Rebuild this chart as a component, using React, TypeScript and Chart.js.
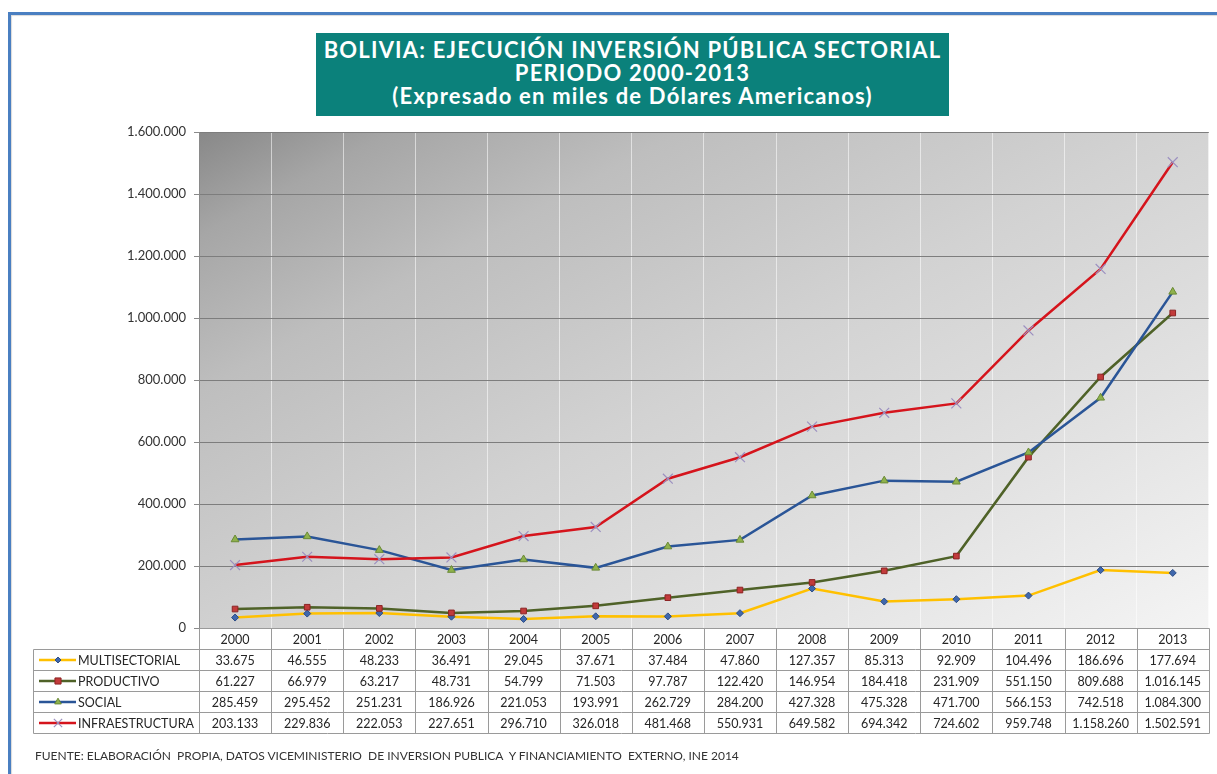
import React, { useEffect, useRef } from 'react';
import { Chart, registerables } from 'chart.js';

Chart.register(...registerables);

const years = ['2000', '2001', '2002', '2003', '2004', '2005', '2006', '2007', '2008', '2009', '2010', '2011', '2012', '2013'];
const multisectorial = [33675, 46555, 48233, 36491, 29045, 37671, 37484, 47860, 127357, 85313, 92909, 104496, 186696, 177694];
const productivo = [61227, 66979, 63217, 48731, 54799, 71503, 97787, 122420, 146954, 184418, 231909, 551150, 809688, 1016145];
const social = [285459, 295452, 251231, 186926, 221053, 193991, 262729, 284200, 427328, 475328, 471700, 566153, 742518, 1084300];
const infraestructura = [203133, 229836, 222053, 227651, 296710, 326018, 481468, 550931, 649582, 694342, 724602, 959748, 1158260, 1502591];
const seriesNames = ['MULTISECTORIAL', 'PRODUCTIVO', 'SOCIAL', 'INFRAESTRUCTURA'];
const yMin = 0;
const yMax = 1600000;
const yStep = 200000;
const titleLines = [
  'BOLIVIA: EJECUCIÓN INVERSIÓN PÚBLICA SECTORIAL',
  'PERIODO 2000-2013',
  '(Expresado en miles de Dólares Americanos)',
];
const sourceNote = 'FUENTE: ELABORACIÓN  PROPIA, DATOS VICEMINISTERIO  DE INVERSION PUBLICA  Y FINANCIAMIENTO  EXTERNO, INE 2014';

const FONT = 'Lato, "Open Sans", sans-serif';

const fmt = (n: number) => String(n).replace(/\B(?=(\d{3})+(?!\d))/g, '.');

const styles = [
  { line: '#ffc000', point: 'rectRot', radius: 3.5, pbg: '#3f67ad', pborder: '#2b4c86', pw: 1 },
  { line: '#4f6228', point: 'rect', radius: 4, pbg: '#c23b3b', pborder: '#8c2424', pw: 1 },
  { line: '#2a5597', point: 'triangle', radius: 4.5, pbg: '#8fb24c', pborder: '#6a8a35', pw: 1 },
  { line: '#d5141c', point: 'crossRot', radius: 7, pbg: '#9c90c0', pborder: '#9c90c0', pw: 1.2 },
];

const seriesData = [multisectorial, productivo, social, infraestructura];

function drawMarker(ctx: CanvasRenderingContext2D, kind: string, x: number, y: number, r: number, bg: string, border: string, w: number) {
  ctx.save();
  ctx.fillStyle = bg;
  ctx.strokeStyle = border;
  ctx.lineWidth = w;
  ctx.beginPath();
  if (kind === 'rectRot') {
    ctx.moveTo(x, y - r); ctx.lineTo(x + r, y); ctx.lineTo(x, y + r); ctx.lineTo(x - r, y); ctx.closePath();
    ctx.fill(); ctx.stroke();
  } else if (kind === 'rect') {
    const s = r * 0.9;
    ctx.rect(x - s, y - s, 2 * s, 2 * s); ctx.fill(); ctx.stroke();
  } else if (kind === 'triangle') {
    ctx.moveTo(x, y - r); ctx.lineTo(x + r * 0.87, y + r * 0.5); ctx.lineTo(x - r * 0.87, y + r * 0.5); ctx.closePath();
    ctx.fill(); ctx.stroke();
  } else {
    const d = r * 0.7;
    ctx.moveTo(x - d, y - d); ctx.lineTo(x + d, y + d); ctx.moveTo(x + d, y - d); ctx.lineTo(x - d, y + d);
    ctx.stroke();
  }
  ctx.restore();
}

const bgPlugin = {
  id: 'plotGradient',
  beforeDraw(chart: any) {
    const { ctx, chartArea } = chart;
    const { left, top, right, bottom } = chartArea;
    const w = right - left;
    const h = bottom - top;
    const ux = 0.475;
    const uy = 0.88;
    const span = w * ux + h * uy;
    const g = ctx.createLinearGradient(left, top, left + ux * span, top + uy * span);
    g.addColorStop(0, '#888888');
    g.addColorStop(0.1, '#a6a6a6');
    g.addColorStop(0.25, '#bebebe');
    g.addColorStop(0.5, '#d2d2d2');
    g.addColorStop(0.75, '#e2e2e2');
    g.addColorStop(1, '#f4f4f4');
    ctx.save();
    ctx.fillStyle = g;
    ctx.fillRect(left, top, w, h);
    ctx.restore();
  },
};

const tablePlugin = {
  id: 'dataTable',
  afterDraw(chart: any) {
    const { ctx, chartArea } = chart;
    const x = chart.scales.x;
    const step = x.getPixelForValue(1) - x.getPixelForValue(0);
    const left = Math.round(chartArea.left) + 0.5;
    const right = Math.round(chartArea.right) + 0.5;
    const top = Math.round(chartArea.bottom) + 0.5;
    const rowH = 21;
    const tableLeft = 33.5;
    const nRows = seriesNames.length + 1;
    ctx.save();
    ctx.strokeStyle = '#9a9a9a';
    ctx.lineWidth = 1;
    ctx.beginPath();
    ctx.moveTo(left, top); ctx.lineTo(right, top);
    for (let r = 1; r <= nRows; r++) {
      const y = top + r * rowH;
      ctx.moveTo(tableLeft, y); ctx.lineTo(right, y);
    }
    for (let i = 0; i <= years.length; i++) {
      const vx = Math.round(x.getPixelForValue(i) - step / 2) + 0.5;
      ctx.moveTo(vx, top); ctx.lineTo(vx, top + nRows * rowH);
    }
    ctx.moveTo(tableLeft, top + rowH); ctx.lineTo(tableLeft, top + nRows * rowH);
    ctx.stroke();

    ctx.fillStyle = '#262626';
    ctx.font = `12.5px ${FONT}`;
    ctx.textAlign = 'center';
    ctx.textBaseline = 'middle';
    years.forEach((yr, i) => {
      ctx.fillText(yr, x.getPixelForValue(i), top + rowH / 2 + 1);
    });
    seriesData.forEach((arr, s) => {
      const cy = top + (s + 1) * rowH + rowH / 2 + 1;
      arr.forEach((v, i) => {
        ctx.fillText(fmt(v), x.getPixelForValue(i), cy);
      });
      const st = styles[s];
      ctx.save();
      ctx.strokeStyle = st.line;
      ctx.lineWidth = 2.5;
      ctx.beginPath();
      ctx.moveTo(39, cy - 1); ctx.lineTo(76, cy - 1);
      ctx.stroke();
      ctx.restore();
      drawMarker(ctx, st.point, 58, cy - 1, st.radius * 0.85, st.pbg, st.pborder, st.pw);
      ctx.textAlign = 'left';
      ctx.fillText(seriesNames[s], 78, cy);
      ctx.textAlign = 'center';
    });
    ctx.restore();
  },
};

export default function App() {
  const canvasRef = useRef<HTMLCanvasElement | null>(null);

  useEffect(() => {
    document.body.style.margin = '0';
    const canvas = canvasRef.current;
    if (!canvas) return;
    const chart = new Chart(canvas, {
      type: 'line',
      data: {
        labels: years,
        datasets: seriesData.map((arr, s) => ({
          label: seriesNames[s],
          data: arr,
          borderColor: styles[s].line,
          borderWidth: 2.5,
          backgroundColor: styles[s].pbg,
          pointStyle: styles[s].point as any,
          pointRadius: styles[s].radius,
          pointBackgroundColor: styles[s].pbg,
          pointBorderColor: styles[s].pborder,
          pointBorderWidth: styles[s].pw,
          tension: 0,
          fill: false,
          order: 3 - s,
        })),
      },
      options: {
        responsive: false,
        maintainAspectRatio: false,
        animation: false,
        devicePixelRatio: 1,
        layout: { padding: { left: 0, right: 5, top: 132, bottom: 146 } },
        plugins: {
          legend: { display: false },
          tooltip: { enabled: false },
          title: { display: false },
        },
        scales: {
          x: {
            type: 'category',
            offset: true,
            grid: { offset: true, color: 'rgba(255,255,255,0.55)', lineWidth: 1, drawTicks: false },
            border: { display: false },
            ticks: { display: false },
            afterFit: (s: any) => { s.height = 0; },
          },
          y: {
            min: yMin,
            max: yMax,
            ticks: {
              stepSize: yStep,
              color: '#333',
              font: { family: FONT, size: 13 },
              padding: 8,
              callback: (v: any) => fmt(Number(v)),
            },
            grid: { color: '#7d7d7d', lineWidth: 1, tickLength: 5, tickColor: '#8a8a8a' },
            border: { display: true, color: '#8a8a8a' },
            afterFit: (s: any) => { s.width = 199; },
          },
        },
      },
      plugins: [bgPlugin, tablePlugin],
    });
    return () => chart.destroy();
  }, []);

  return (
    <div style={{ position: 'relative', width: 1217, height: 774, background: '#fff', overflow: 'hidden', fontFamily: FONT }}>
      <div
        style={{
          position: 'absolute', left: 8, top: 12, width: 1300, height: 900,
          borderTop: '3px solid #4a7fc1', borderLeft: '3px solid #4a7fc1',
          boxShadow: 'inset 1px 1px 1px rgba(0,0,0,0.15)',
        }}
      />
      <canvas ref={canvasRef} width={1217} height={774} style={{ position: 'absolute', left: 0, top: 0 }} />
      <div
        style={{
          position: 'absolute', left: 316, top: 33, width: 633, height: 83,
          background: '#0b817b', color: '#fff', fontWeight: 700, fontSize: 22,
          letterSpacing: 1.2, lineHeight: '23px', textAlign: 'center', paddingTop: 5, boxSizing: 'border-box',
          whiteSpace: 'nowrap',
        }}
      >
        {titleLines.map((t, i) => (<div key={i}>{t}</div>))}
      </div>
      <div
        style={{
          position: 'absolute', left: 35, top: 748, fontSize: 12, color: '#333',
          whiteSpace: 'pre', lineHeight: '16px',
        }}
      >
        {sourceNote}
      </div>
    </div>
  );
}
